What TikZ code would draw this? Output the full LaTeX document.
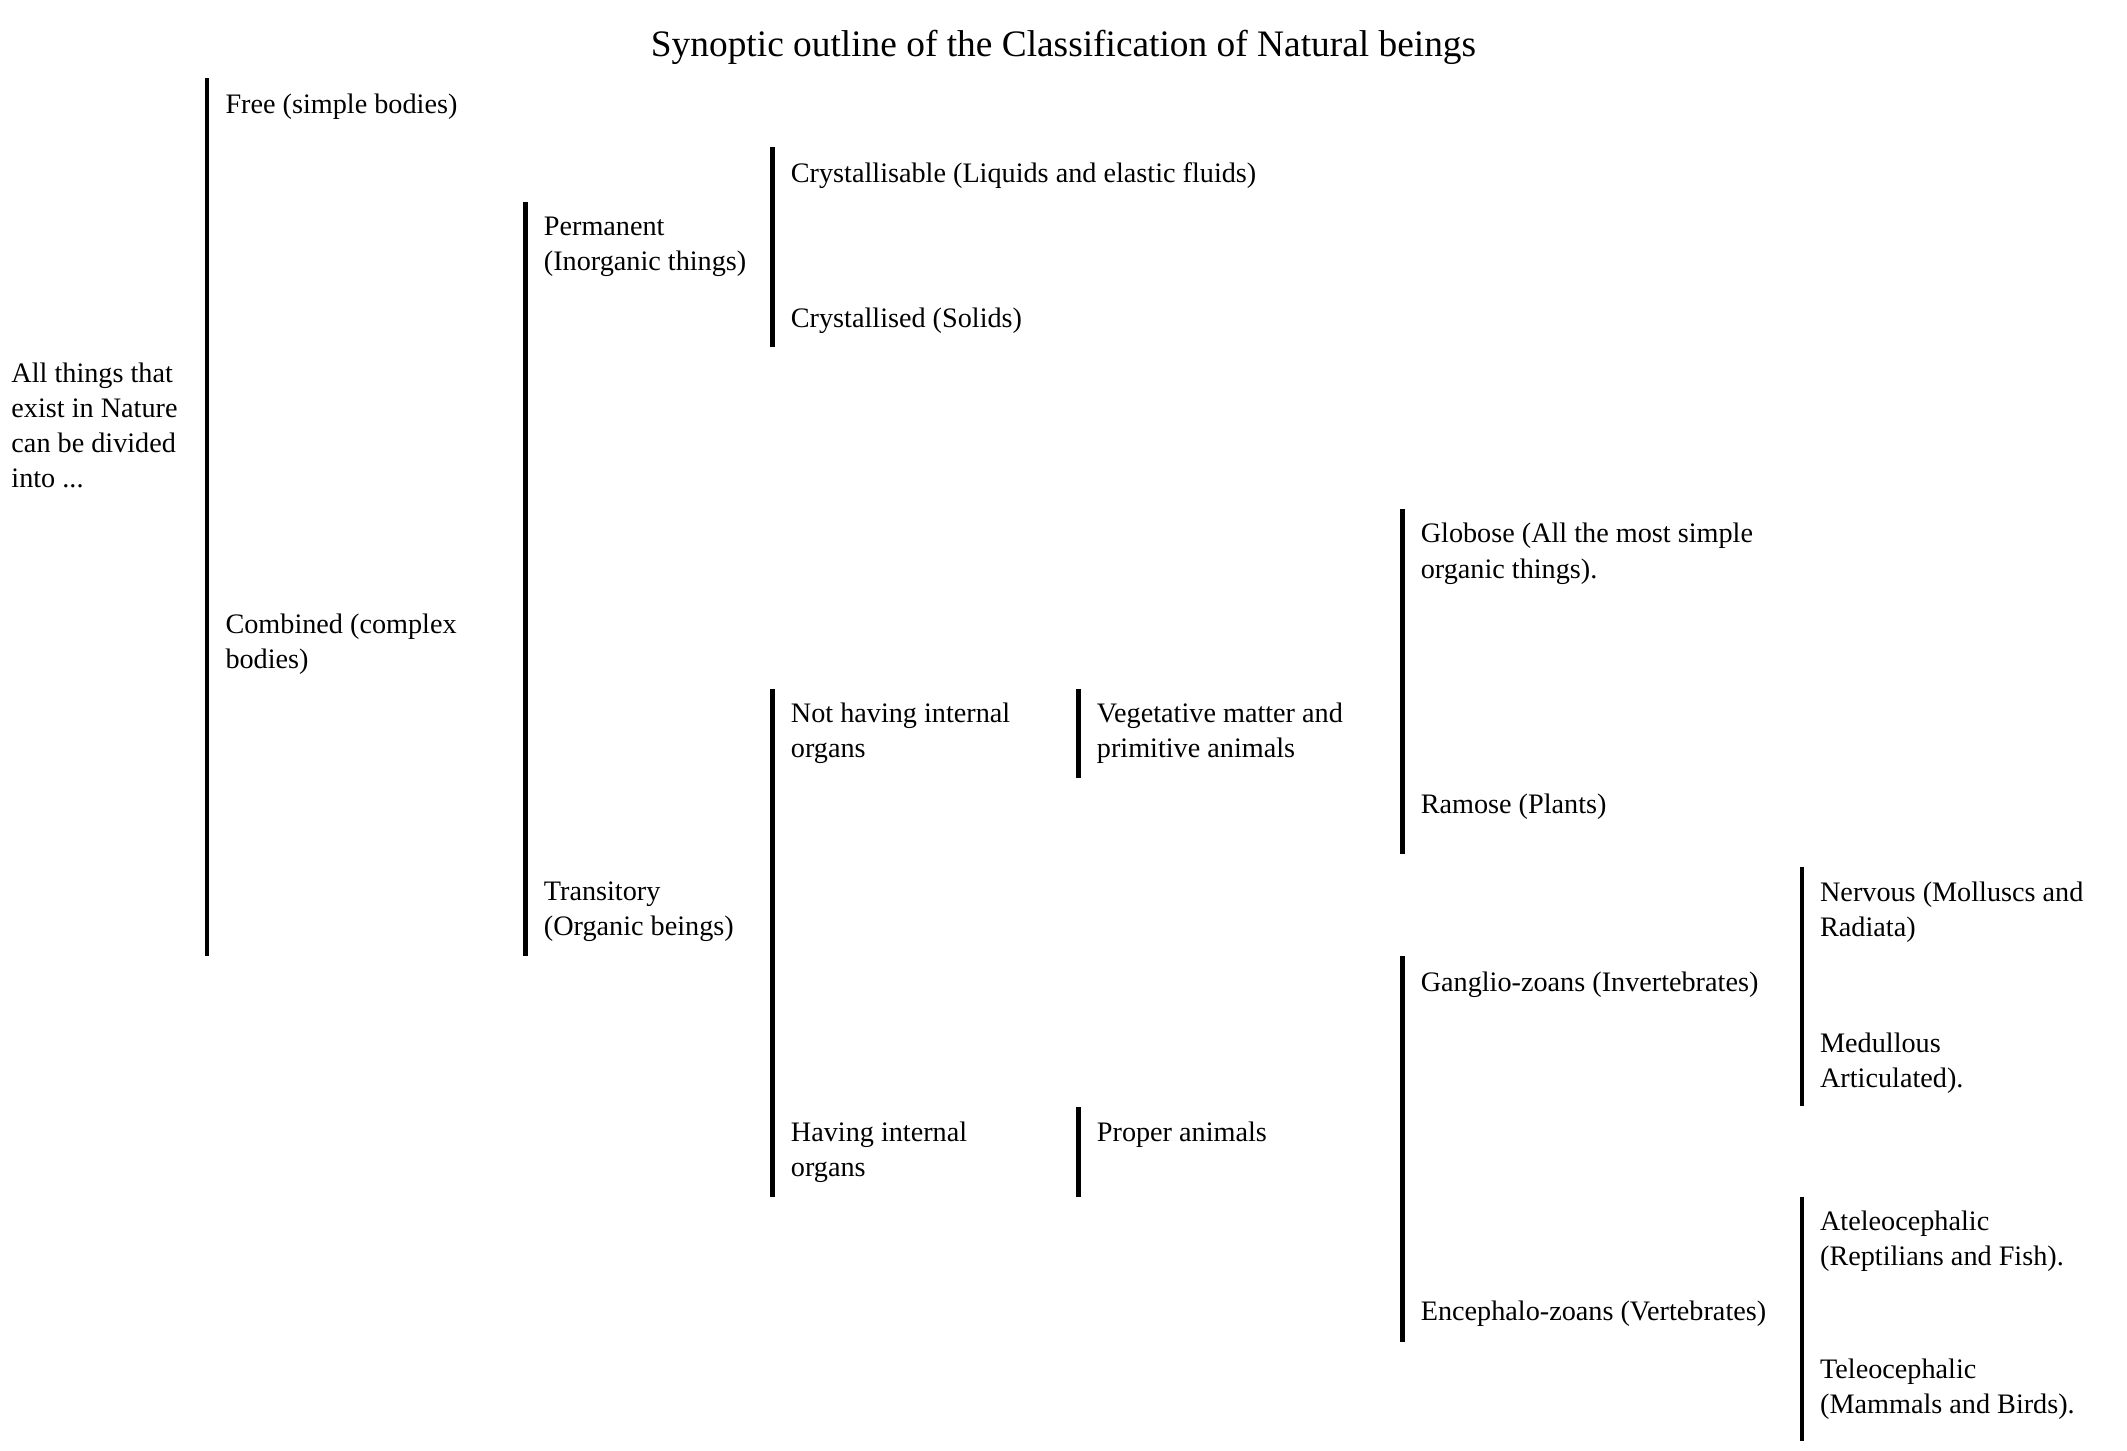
\documentclass[tikz,border=0pt]{standalone}
\usepackage{fontspec}
\setmainfont{Liberation Serif}
\tikzset{bar/.style={line width=1.8pt},
  lbl/.style={anchor=north west,inner sep=0pt,align=left,font=\fontsize{11.7}{14.6}\selectfont}}
\begin{document}
\begin{tikzpicture}[x=0.02cm,y=-0.02cm,line cap=butt]
\useasboundingbox (0,0) rectangle (1550,1057);
\node[anchor=base,inner sep=0pt,font=\fontsize{15.5}{18}\selectfont] (title) at (775,41) {Synoptic outline of the Classification of Natural beings};
% bars
\draw [bar] (151,57) -- (151,697);
\draw [bar] (383,147) -- (383,697);
\draw [bar] (563,107) -- (563,253);
\draw [bar] (563,502) -- (563,872);
\draw [bar] (786,502) -- (786,567);
\draw [bar] (786,807) -- (786,872);
\draw [bar] (1022,371) -- (1022,622);
\draw [bar] (1022,697) -- (1022,978);
\draw [bar] (1313,632) -- (1313,806);
\draw [bar] (1313,872) -- (1313,1050);
% labels
\node[lbl] (all) at (8,264) {All things that\\exist in Nature\\can be divided\\into ...};
\node[lbl] (free) at (164,68) {Free (simple bodies)};
\node[lbl] (comb) at (164,447) {Combined (complex\\bodies)};
\node[lbl] (perm) at (396,158) {Permanent\\(Inorganic things)};
\node[lbl] (trans) at (396,642) {Transitory\\(Organic beings)};
\node[lbl] (cryb) at (576,118) {Crystallisable (Liquids and elastic fluids)};
\node[lbl] (cryd) at (576,224) {Crystallised (Solids)};
\node[lbl] (noorg) at (576,512) {Not having internal\\organs};
\node[lbl] (org) at (576,817) {Having internal\\organs};
\node[lbl] (veg) at (799,512) {Vegetative matter and\\primitive animals};
\node[lbl] (prop) at (799,817) {Proper animals};
\node[lbl] (glob) at (1035,381) {Globose (All the most simple\\organic things).};
\node[lbl] (ram) at (1035,578) {Ramose (Plants)};
\node[lbl] (gang) at (1035,708) {Ganglio-zoans (Invertebrates)};
\node[lbl] (ence) at (1035,948) {Encephalo-zoans (Vertebrates)};
\node[lbl] (nerv) at (1326,642) {Nervous (Molluscs and\\Radiata)};
\node[lbl] (medu) at (1326,752) {Medullous\\Articulated).};
\node[lbl] (atel) at (1326,882) {Ateleocephalic\\(Reptilians and Fish).};
\node[lbl] (tele) at (1326,990) {Teleocephalic\\(Mammals and Birds).};
\end{tikzpicture}
\end{document}
